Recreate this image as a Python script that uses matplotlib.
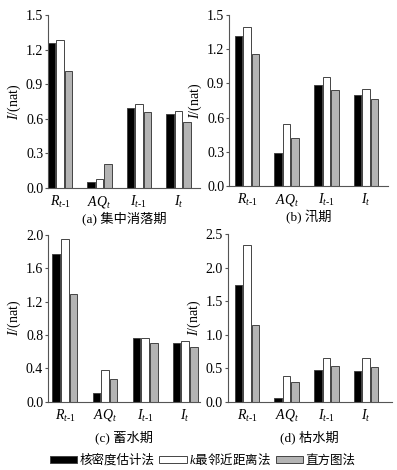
import matplotlib
matplotlib.use('Agg')
import matplotlib.pyplot as plt
from matplotlib.patches import Patch
import numpy as np

plt.rcParams['font.family'] = ['Liberation Serif', 'Noto Sans CJK SC']
plt.rcParams['mathtext.fontset'] = 'custom'
plt.rcParams['mathtext.rm'] = 'Liberation Serif'
plt.rcParams['mathtext.it'] = 'Liberation Serif:italic'

categories = [r'$R_{t\mathrm{\text{-}}1}$', r'$AQ_t$', r'$I_{t\mathrm{\text{-}}1}$', r'$I_t$']
methods = ['核密度估计法', 'k最邻近距离法', '直方图法']
captions = ['(a) 集中消落期', '(b) 汛期', '(c) 蓄水期', '(d) 枯水期']

# kernel density / k-nearest / histogram
a_kde = [1.255, 0.055, 0.69, 0.645]
a_knn = [1.28, 0.075, 0.725, 0.67]
a_hist = [1.015, 0.21, 0.655, 0.57]

b_kde = [1.318, 0.293, 0.885, 0.803]
b_knn = [1.397, 0.548, 0.961, 0.855]
b_hist = [1.157, 0.422, 0.841, 0.762]

c_kde = [1.768, 0.108, 0.764, 0.708]
c_knn = [1.952, 0.376, 0.764, 0.724]
c_hist = [1.288, 0.268, 0.70, 0.652]

d_kde = [1.743, 0.06, 0.468, 0.458]
d_knn = [2.33, 0.378, 0.657, 0.647]
d_hist = [1.14, 0.289, 0.528, 0.518]

yticks = [[0, 0.3, 0.6, 0.9, 1.2, 1.5],
          [0, 0.3, 0.6, 0.9, 1.2, 1.5],
          [0, 0.4, 0.8, 1.2, 1.6, 2.0],
          [0, 0.5, 1.0, 1.5, 2.0, 2.5]]

panels = [(a_kde, a_knn, a_hist), (b_kde, b_knn, b_hist),
          (c_kde, c_knn, c_hist), (d_kde, d_knn, d_hist)]

colors = ['black', 'white', '#b4b4b4']
edge = '#444444'

fig = plt.figure(figsize=(3.97, 4.70), dpi=100)
rects = [[0.121, 0.600, 0.383, 0.368],
         [0.577, 0.604, 0.400, 0.364],
         [0.121, 0.145, 0.383, 0.355],
         [0.574, 0.145, 0.413, 0.357]]
xlims = [(-0.3, 3.55), (-0.45, 3.55), (-0.42, 3.37), (-0.48, 3.65)]
cap_y = [0.536, 0.538, 0.070, 0.070]

x = np.arange(len(categories))
w = 0.19
step = 0.215
for i, (vals, rect) in enumerate(zip(panels, rects)):
    ax = fig.add_axes(rect)
    for j, v in enumerate(vals):
        ax.bar(x + (j - 1) * step, v, width=w, color=colors[j],
               edgecolor=edge, linewidth=0.7)
    ax.set_xlim(*xlims[i])
    ax.set_ylim(0, yticks[i][-1])
    ax.set_yticks(yticks[i])
    ax.set_yticklabels(['%.1f' % t for t in yticks[i]])
    ax.set_xticks(x)
    ax.set_xticklabels(categories)
    ax.tick_params(axis='x', length=0, labelsize=10, pad=4)
    ax.tick_params(axis='y', length=2, labelsize=10, pad=1.5, color='#555555')
    for s in ['top', 'right']:
        ax.spines[s].set_visible(False)
    for s in ['left', 'bottom']:
        ax.spines[s].set_color('#555555')
        ax.spines[s].set_linewidth(0.8)
    ax.set_ylabel(r'$I$/(nat)', fontsize=10, labelpad=2)
    cx = rect[0] + rect[2] / 2
    fig.text(cx, cap_y[i], captions[i], ha='center', va='center',
             fontsize=9.5, family=['Liberation Serif', 'Noto Sans CJK SC'])

handles = [Patch(facecolor=colors[j], edgecolor=edge, linewidth=0.7) for j in range(3)]
labels = ['核密度估计法', r'$k$最邻近距离法', '直方图法']
fig.legend(handles, labels, loc='center', bbox_to_anchor=(0.51, 0.023), ncol=3,
           frameon=False, fontsize=9, handlelength=2.2, handleheight=0.5,
           handletextpad=0.15, columnspacing=0.4,
           prop={'family': ['Noto Sans CJK SC', 'Liberation Serif'], 'size': 9})

fig.savefig('out.png', dpi=100)
